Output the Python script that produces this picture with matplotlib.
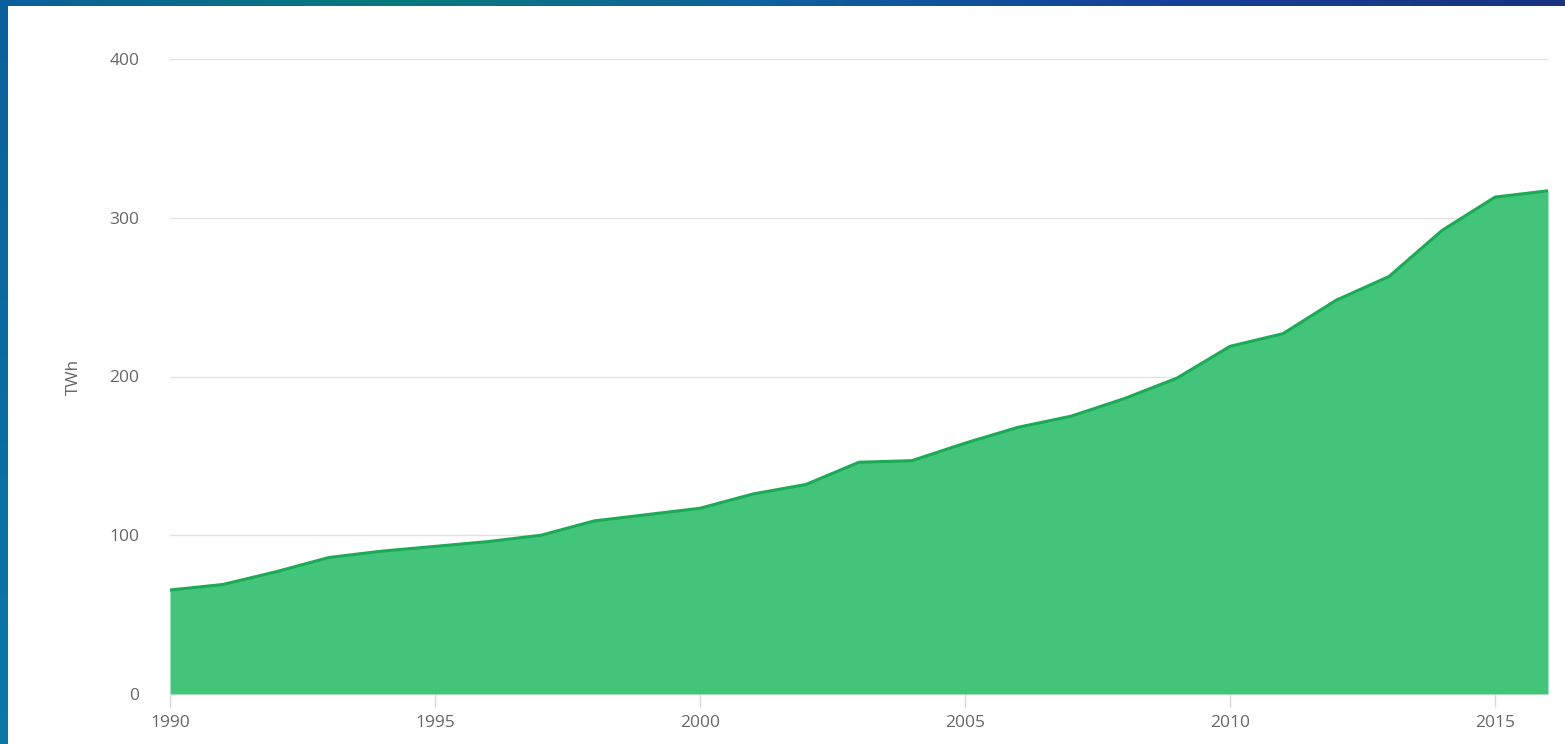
import numpy as np
import matplotlib
matplotlib.use("Agg")
import matplotlib.pyplot as plt
from matplotlib.colors import LinearSegmentedColormap

years = list(range(1990, 2017))
twh = [65.5, 69, 77, 86, 90, 93, 96, 100, 109, 113, 117, 126, 132, 146, 147,
       158, 168, 175, 186, 199, 219, 227, 248, 263, 292, 313, 317]
y_ticks = [0, 100, 200, 300, 400]
x_ticks = [1990, 1995, 2000, 2005, 2010, 2015]

plt.rcParams['font.family'] = ['Open Sans', 'DejaVu Sans']

W, H = 1565, 744
fig = plt.figure(figsize=(W / 100, H / 100), dpi=100)
fig.patch.set_facecolor('white')

# frame: gradient band on top, solid band on the left
band = fig.add_axes([0, 1 - 6 / H, 1, 6 / H])
cmap = LinearSegmentedColormap.from_list(
    'band', ['#0a5f9c', '#0a7a7c', '#0f5fa0', '#16409a', '#1a3380'])
band.imshow(np.linspace(0, 1, 256)[None, :], aspect='auto', cmap=cmap)
band.axis('off')
left = fig.add_axes([0, 0, 7 / W, 1])
cmap2 = LinearSegmentedColormap.from_list('left', ['#0a5f9c', '#0a78a6'])
left.imshow(np.linspace(0, 1, 256)[:, None], aspect='auto', cmap=cmap2)
left.axis('off')

ax = fig.add_axes([170 / W, 1 - 694 / H, (1548 - 170) / W, (694 - 59) / H])
ax.fill_between(years, twh, 0, color='#42c47b', lw=0, zorder=2)
ax.plot(years, twh, color='#1caa56', lw=2.2, zorder=3)

ax.set_xlim(1990, 2016)
ax.set_ylim(0, 400)
ax.set_yticks(y_ticks)
ax.set_xticks(x_ticks)
ax.grid(axis='y', color='#e3e3e3', lw=1, zorder=0)
for s in ax.spines.values():
    s.set_visible(False)
ax.tick_params(axis='y', length=0, pad=22, labelsize=12.5, labelcolor='#666666')
ax.tick_params(axis='x', length=9, width=1, color='#d8d8d8', pad=6,
               labelsize=12.5, labelcolor='#666666')
ax.set_ylabel('TWh', fontsize=12.5, color='#666666', labelpad=20)

fig.savefig('out.png', dpi=100)
